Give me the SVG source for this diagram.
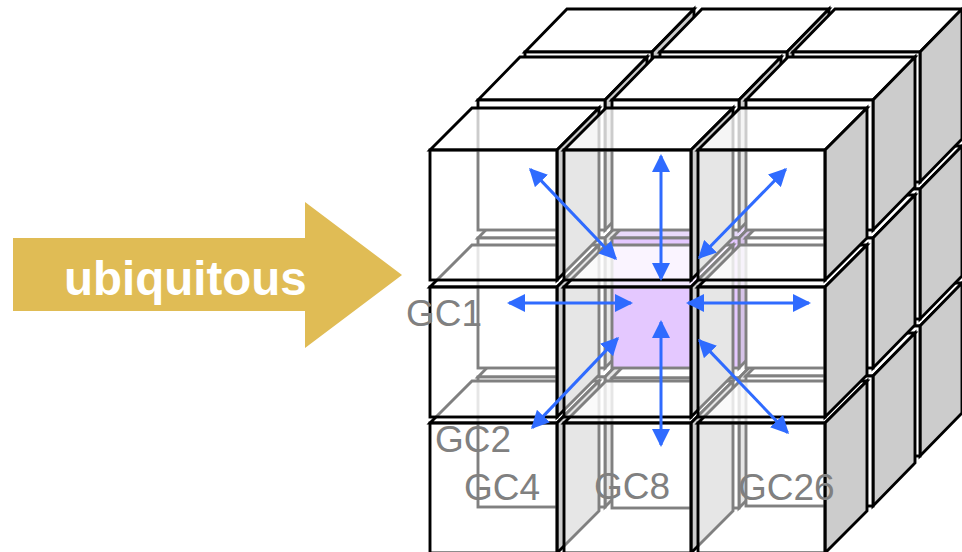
<svg xmlns="http://www.w3.org/2000/svg" xmlns:xlink="http://www.w3.org/1999/xlink" width="962" height="552" viewBox="0 0 962 552">
<style>
.e{stroke:#000;stroke-width:2.9;stroke-linejoin:miter}
.t{fill:#fff}.r{fill:#ccc}.f{fill:#fff}
.tf{fill:#fff;fill-opacity:.8}.ff{fill:#fff;fill-opacity:.5}
.tp{fill:#d2b4f5}.rp{fill:#ad87d0}.fp{fill:#c891ff}
.lbl{font-family:"Liberation Sans",Arial,sans-serif;font-size:37px;fill:#808080}
.ttl{font-family:"Liberation Sans",Arial,sans-serif;font-size:47.5px;font-weight:bold;fill:#fff}
.a{stroke:#2f6bff;stroke-width:3;fill:none;marker-start:url(#h);marker-end:url(#h)}
</style>
<defs>
<marker id="h" markerUnits="userSpaceOnUse" markerWidth="19" markerHeight="18" refX="16" refY="9" orient="auto-start-reverse"><path d="M0,0L18,9L0,18Z" fill="#2f6bff"/></marker>
<g id="c">
<path class="e t" d="M0,0L42,-43H169L127,0Z"/><path class="e r" d="M127,0L169,-43V87L127,130Z"/><rect class="e f" width="127" height="130"/>
</g>
<g id="cf">
<path class="e tf" d="M0,0L42,-42H169L127,0Z"/><path class="e r" d="M127,0L169,-42V88L127,130Z"/><rect class="e ff" width="127" height="130"/>
</g>
<g id="cp">
<path class="e tp" d="M0,0L42,-43H169L127,0Z"/><path class="e rp" d="M127,0L169,-43V87L127,130Z"/><rect class="e fp" width="127" height="130"/>
</g>
</defs>
<g id="banner">
<polygon points="13,238 305,238 305,202 402,275 305,348 305,311 13,311" fill="#e0bc55"/>
<text class="ttl" x="64" y="295">ubiquitous</text>
</g>
<g id="layer-back">
<use id="b31" href="#c" x="525" y="326"/><use id="b32" href="#c" x="660" y="326"/><use id="b33" href="#c" x="793" y="326"/>
<use id="b21" href="#c" x="525" y="189"/><use id="b22" href="#c" x="660" y="189"/><use id="b23" href="#c" x="793" y="189"/>
<use id="b11" href="#c" x="525" y="52"/><use id="b12" href="#c" x="660" y="52"/><use id="b13" href="#c" x="793" y="52"/>
</g>
<g id="layer-mid">
<use id="m31" href="#c" x="478" y="377"/><use id="m32" href="#c" x="612" y="378"/><use id="m33" href="#c" x="746" y="376"/>
<use id="m21" href="#c" x="478" y="238"/><use id="m22" href="#cp" x="612" y="238"/><use id="m23" href="#c" x="746" y="238"/>
<use id="m11" href="#c" x="478" y="100"/><use id="m12" href="#c" x="612" y="100"/><use id="m13" href="#c" x="746" y="100"/>
</g>
<g id="layer-front">
<use id="f31" href="#cf" x="430" y="423"/><use id="f32" href="#cf" x="564" y="423"/><use id="f33" href="#cf" x="698" y="423"/>
<use id="f21" href="#cf" x="430" y="287"/><use id="f22" href="#cf" x="564" y="287"/><use id="f23" href="#cf" x="698" y="287"/>
<use id="f11" href="#cf" x="430" y="150"/><use id="f12" href="#cf" x="564" y="150"/><use id="f13" href="#cf" x="698" y="150"/>
</g>
<g id="connectors">
<line class="a" x1="530.4" y1="169.4" x2="615.6" y2="258.6"/>
<line class="a" x1="661" y1="156" x2="661" y2="279"/>
<line class="a" x1="785.6" y1="169.4" x2="699.4" y2="257.6"/>
<line class="a" x1="509" y1="303" x2="631" y2="303"/>
<line class="a" x1="688" y1="303" x2="809" y2="303"/>
<line class="a" x1="617.6" y1="338.4" x2="532.4" y2="427.6"/>
<line class="a" x1="661" y1="322" x2="661" y2="445"/>
<line class="a" x1="699.4" y1="340.4" x2="787.6" y2="432.6"/>
</g>
<g id="labels">
<text class="lbl" x="406" y="326">GC1</text>
<text class="lbl" x="435" y="452">GC2</text>
<text class="lbl" x="464" y="500">GC4</text>
<text class="lbl" x="594" y="499">GC8</text>
<text class="lbl" x="738" y="500">GC26</text>
</g>
</svg>
